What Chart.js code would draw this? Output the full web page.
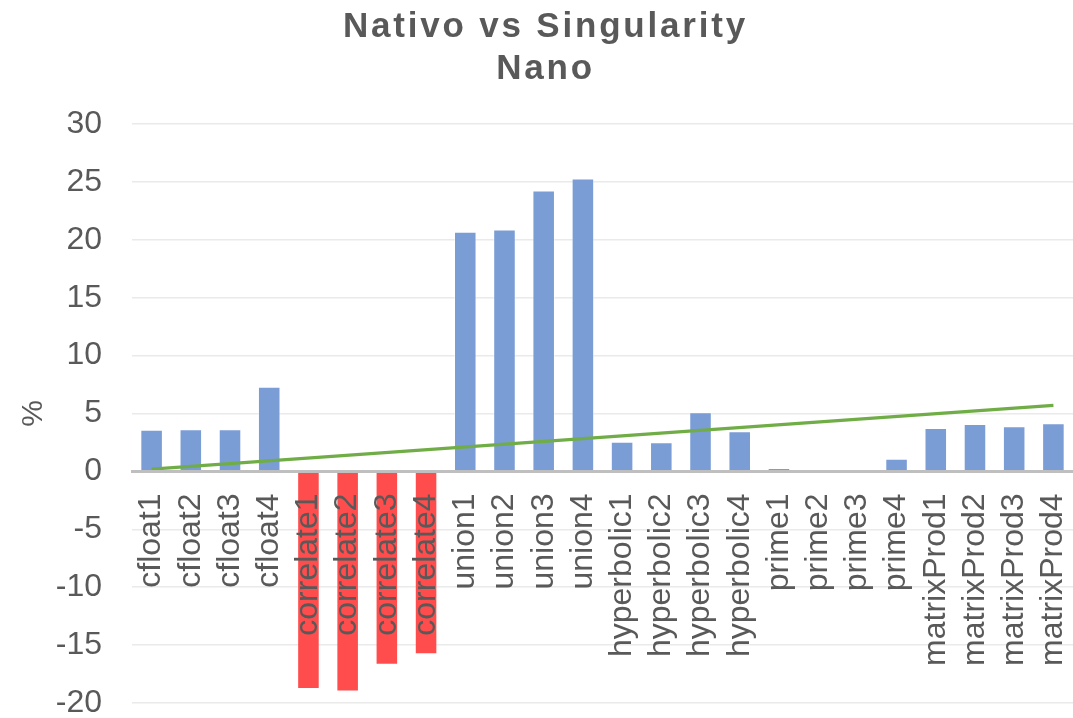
<!DOCTYPE html>
<html>
<head>
<meta charset="utf-8">
<script src="https://cdn.jsdelivr.net/npm/chart.js@4/dist/chart.umd.min.js"></script>
<style>
  html, body { margin: 0; padding: 0; background: #ffffff; }
  #wrap { position: relative; width: 1073px; height: 718px; overflow: hidden; }
  #title {
    position: absolute; left: 9px; top: 4px; width: 1073px;
    text-align: center; font-family: "Liberation Sans", Arial, sans-serif;
    font-weight: bold; font-size: 35px; line-height: 42px; color: #595959;
    letter-spacing: 2.8px; pointer-events: none;
  }
  canvas { position: absolute; left: 0; top: 0; }
</style>
</head>
<body>
<div id="wrap">
  <canvas id="c" width="1073" height="718"></canvas>
  <div id="title">Nativo vs Singularity<br>Nano</div>
</div>
<script>
const categories = [
  "cfloat1", "cfloat2", "cfloat3", "cfloat4",
  "correlate1", "correlate2", "correlate3", "correlate4",
  "union1", "union2", "union3", "union4",
  "hyperbolic1", "hyperbolic2", "hyperbolic3", "hyperbolic4",
  "prime1", "prime2", "prime3", "prime4",
  "matrixProd1", "matrixProd2", "matrixProd3", "matrixProd4"
];
const values = [
  3.6, 3.65, 3.65, 7.3,
  -18.8, -19.0, -16.7, -15.8,
  20.7, 20.9, 24.25, 25.3,
  2.57, 2.52, 5.1, 3.47,
  0.3, 0.1, 0.12, 1.1,
  3.75, 4.1, 3.9, 4.15
];
const trendStart = 0.2;
const trendEnd = 5.7;
const yMin = -20, yMax = 30, yStep = 5;
const yTitle = "%";

const FONT = '"Liberation Sans", Arial, sans-serif';
const TEXT = '#595959';

function zeroPad(s) { s.paddingLeft = 0; s.paddingRight = 0; s.paddingTop = 0; s.paddingBottom = 0; }

new Chart(document.getElementById('c'), {
  data: {
    labels: categories,
    datasets: [
      {
        type: 'line',
        data: [
          { x: categories[0], y: trendStart },
          { x: categories[categories.length - 1], y: trendEnd }
        ],
        borderColor: '#70AD47',
        borderWidth: 3.2,
        pointRadius: 0,
        fill: false,
        order: 0
      },
      {
        type: 'bar',
        data: values,
        backgroundColor: ctx => (ctx.raw < 0 ? '#FF4C4C' : '#7A9DD6'),
        borderColor: ctx => (ctx.raw < 0 ? 'rgba(255,76,76,0)' : 'rgba(255,255,255,0.4)'),
        borderWidth: 1,
        barPercentage: 0.575,
        categoryPercentage: 1.0,
        order: 1
      }
    ]
  },
  options: {
    responsive: false,
    animation: false,
    devicePixelRatio: 1,
    layout: { padding: { left: 12, right: 0, top: 124, bottom: 15 } },
    plugins: { legend: { display: false }, tooltip: { enabled: false }, title: { display: false } },
    scales: {
      x: {
        type: 'category',
        position: { y: 0 },
        offset: true,
        afterFit: zeroPad,
        grid: { display: false, drawTicks: false },
        border: { display: true, color: '#BFBFBF', width: 3, z: 2 },
        ticks: {
          z: 3,
          autoSkip: false, minRotation: 90, maxRotation: 90,
          padding: 22, color: TEXT, font: { family: FONT, size: 32 }
        }
      },
      y: {
        min: yMin, max: yMax,
        afterFit: s => { zeroPad(s); s.width = 120; },
        grid: { color: '#EAEAEA', lineWidth: 1.5, drawTicks: false },
        border: { display: false },
        ticks: { stepSize: yStep, padding: 30, color: TEXT, font: { family: FONT, size: 32 } },
        title: { display: true, text: yTitle, color: TEXT, font: { family: FONT, size: 30 } }
      }
    }
  }
});
</script>
</body>
</html>
